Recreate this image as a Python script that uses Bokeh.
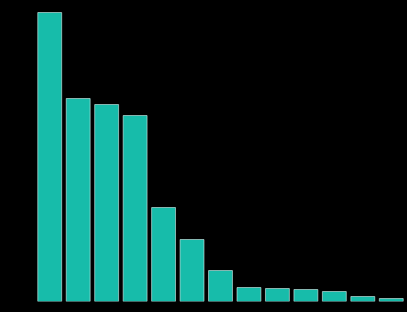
from bokeh.plotting import figure
from bokeh.models import ColumnDataSource, Range1d
from bokeh.embed import file_html
from bokeh.resources import INLINE

categories = ["A", "B", "C", "D", "E", "F", "G", "H", "I", "J", "K", "L", "M"]
values = [289, 203, 197, 186, 94, 62, 31, 14, 13, 12, 10, 5, 3]

src = ColumnDataSource(dict(cat=categories, val=values))

p = figure(x_range=categories, y_range=Range1d(0, 301), width=407, height=312,
           output_backend="svg", toolbar_location=None,
           min_border_left=35, min_border_right=2, min_border_top=0, min_border_bottom=11)
p.background_fill_color = None
p.border_fill_color = "#000000"
p.outline_line_color = None
p.grid.visible = False
p.xaxis.visible = False
p.yaxis.visible = False

p.vbar(x="cat", top="val", width=0.84, source=src, fill_color="#17bcaa",
       line_color="#d8f2ee", line_width=1, line_alpha=0.6)

html = file_html(p, INLINE)
html = html.replace("<head>", "<head><style>html,body{background:#000;margin:0;}</style>", 1)
open("out.html", "w").write(html)
